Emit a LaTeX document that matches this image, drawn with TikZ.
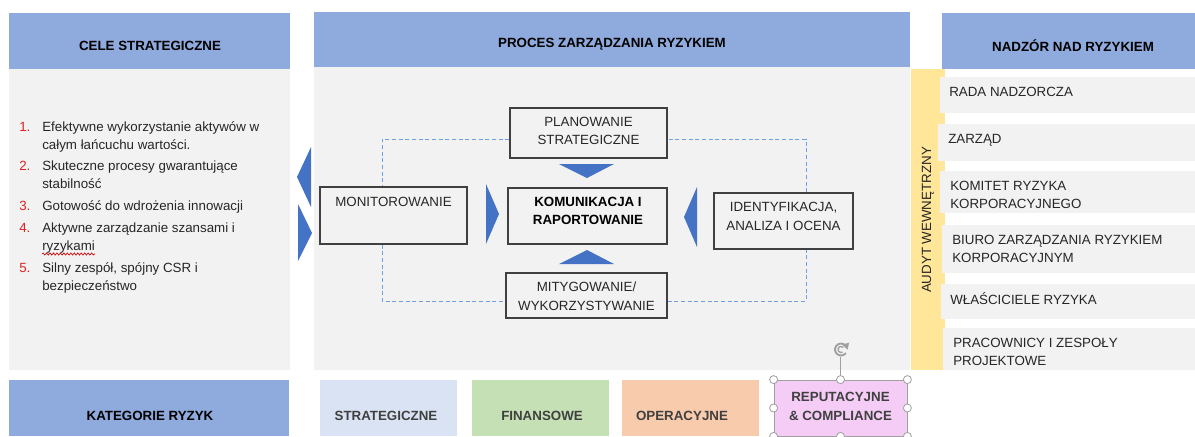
\documentclass[tikz,border=0pt]{standalone}
\usepackage{fontspec}
\setmainfont{Liberation Sans}
\usetikzlibrary{decorations.pathmorphing,arrows.meta,calc}
\definecolor{hdr}{HTML}{8FAADC}
\definecolor{panel}{HTML}{F2F2F2}
\definecolor{audyt}{HTML}{FFE699}
\definecolor{tri}{HTML}{4472C4}
\definecolor{dash}{HTML}{6E9FE3}
\definecolor{txt}{HTML}{262626}
\definecolor{lab}{HTML}{404040}
\definecolor{catS}{HTML}{DAE3F3}
\definecolor{catF}{HTML}{C5E0B4}
\definecolor{catO}{HTML}{F8CBAD}
\definecolor{catR}{HTML}{F4CCF6}
\definecolor{numred}{HTML}{E02020}
\definecolor{handle}{HTML}{A0A0A0}
\tikzset{
  hdrtext/.style={font=\fontsize{10}{12}\selectfont\bfseries, text=black, inner sep=0pt},
  bodytext/.style={font=\fontsize{10}{12}\selectfont, text=txt, inner sep=0pt},
  numtext/.style={font=\fontsize{10}{12}\selectfont, text=numred, inner sep=0pt, anchor=base west},
  linetext/.style={bodytext, anchor=base west},
  procbox/.style={draw=lab, line width=0.8pt, fill=panel, inner sep=0pt},
  proctext/.style={font=\fontsize{10}{13.9}\selectfont, text=txt, align=center, inner sep=0pt},
  dashline/.style={draw=dash, dashed, line width=0.7pt, dash pattern=on 3pt off 2pt},
  trifill/.style={fill=tri},
  catbox/.style={inner sep=0pt, minimum width=137*0.75pt, minimum height=56*0.75pt,
     font=\fontsize{10}{13.9}\selectfont\bfseries, text=lab, align=center},
  rightbox/.style={fill=panel},
  handlecirc/.style={draw=handle, fill=white, line width=0.6pt},
}
\begin{document}
\begin{tikzpicture}[x=0.75pt,y=-0.75pt]
\useasboundingbox (0,0) rectangle (1195,436);
\fill[white] (0,0) rectangle (1195,436);

% ---------- left panel ----------
\fill[hdr] (9,13) rectangle (290,69);
\node[hdrtext] (celeT) at (150,46) {CELE STRATEGICZNE};
\fill[panel] (9,69) rectangle (290,370);

\node[numtext] (n1) at (19,131) {1.};
\node[linetext] (l1a) at (42,131) {Efektywne wykorzystanie aktywów w};
\node[linetext] (l1b) at (42,149.5) {całym łańcuchu wartości.};
\node[numtext] (n2) at (19,170) {2.};
\node[linetext] (l2a) at (42,170) {Skuteczne procesy gwarantujące};
\node[linetext] (l2b) at (42,188.5) {stabilność};
\node[numtext] (n3) at (19,210) {3.};
\node[linetext] (l3a) at (42,210) {Gotowość do wdrożenia innowacji};
\node[numtext] (n4) at (19,232) {4.};
\node[linetext] (l4a) at (42,232) {Aktywne zarządzanie szansami i};
\node[linetext] (l4b) at (42,250.5) {ryzykami};
\draw[red!85!black, line width=0.5pt, decorate, decoration={snake, amplitude=0.8pt, segment length=2.6pt}] ($(l4b.base west)+(0,3.5)$) -- ($(l4b.base east)+(0,3.5)$);
\node[numtext] (n5) at (19,272) {5.};
\node[linetext] (l5a) at (42,272) {Silny zespół, spójny CSR i};
\node[linetext] (l5b) at (42,290.5) {bezpieczeństwo};

% left chevrons between panels
\fill[tri] (297,177) -- (311,147) -- (311,207) -- cycle;
\fill[tri] (312,233) -- (298,204) -- (298,261) -- cycle;

% ---------- middle panel ----------
\fill[hdr] (314,12) rectangle (910,67);
\node[hdrtext] (procT) at (612,44) {PROCES ZARZĄDZANIA RYZYKIEM};
\fill[panel] (314,67) rectangle (910,370);

\coordinate (cTL) at (382,139);
\coordinate (cBL) at (382,301);
\coordinate (cBR) at (806,301);
\coordinate (cTR) at (806,139);

\node[procbox, minimum width=157*0.75pt, minimum height=50*0.75pt] (plan) at (588.5,133) {};
\node[procbox, minimum width=159*0.75pt, minimum height=56*0.75pt] (komu) at (587.5,216) {};
\node[procbox, minimum width=161*0.75pt, minimum height=45*0.75pt] (mity) at (586.5,295.5) {};
\node[procbox, minimum width=147*0.75pt, minimum height=57*0.75pt] (monit) at (393.5,215.5) {};
\node[procbox, minimum width=139*0.75pt, minimum height=56*0.75pt] (ident) at (783.5,221) {};

\draw[dashline] (plan.west |- cTL) -- (cTL) -- (cTL |- monit.north);
\draw[dashline] (cBL |- monit.south) -- (cBL) -- (mity.west |- cBL);
\draw[dashline] (mity.east |- cBR) -- (cBR) -- (cBR |- ident.south);
\draw[dashline] (cTR |- ident.north) -- (cTR) -- (plan.east |- cTR);

\node[proctext] (planT) at (588.5,131) {PLANOWANIE\\STRATEGICZNE};
\node[proctext, font=\fontsize{10}{13.9}\selectfont\bfseries, text=black] (komuT) at (588,211) {KOMUNIKACJA I\\RAPORTOWANIE};
\node[proctext] (mityT) at (586.5,296) {MITYGOWANIE/\\WYKORZYSTYWANIE};
\node[proctext] (monitT) at (393.5,201.5) {MONITOROWANIE};
\node[proctext] (identT) at (783.5,216.5) {IDENTYFIKACJA,\\ANALIZA I OCENA};

% triangles
\fill[tri] (559,164) -- (614,164) -- (587,178) -- cycle;
\fill[tri] (559,264) -- (614,264) -- (587,250) -- cycle;
\fill[tri] (486,184) -- (499,214) -- (486,244) -- cycle;
\fill[tri] (697,187) -- (684,217) -- (697,247) -- cycle;

% ---------- right panel ----------
\fill[hdr] (942,13) rectangle (1195,69);
\node[hdrtext] (nadT) at (1073,46) {NADZÓR NAD RYZYKIEM};
\fill[audyt] (911,69) rectangle (945,370);
\node[bodytext, rotate=90] (audT) at (928,220) {AUDYT WEWNĘTRZNY};

\fill[rightbox] (940,77) rectangle (1195,113);
\fill[rightbox] (938,124) rectangle (1195,161);
\fill[rightbox] (940,171) rectangle (1195,213);
\fill[rightbox] (942,225) rectangle (1195,273);
\fill[rightbox] (941,284) rectangle (1195,319);
\fill[rightbox] (943,328) rectangle (1195,370);

\node[linetext] (r1) at (949,96) {RADA NADZORCZA};
\node[linetext] (r2) at (948,143.5) {ZARZĄD};
\node[linetext] (r3a) at (950,190.5) {KOMITET RYZYKA};
\node[linetext] (r3b) at (950,208.5) {KORPORACYJNEGO};
\node[linetext] (r4a) at (952,244.5) {BIURO ZARZĄDZANIA RYZYKIEM};
\node[linetext] (r4b) at (952,262.5) {KORPORACYJNYM};
\node[linetext] (r5) at (950,304) {WŁAŚCICIELE RYZYKA};
\node[linetext] (r6a) at (953,347) {PRACOWNICY I ZESPOŁY};
\node[linetext] (r6b) at (953,365) {PROJEKTOWE};

% ---------- bottom row ----------
\fill[hdr] (9,380) rectangle (289,436);
\node[hdrtext] (katT) at (150,416) {KATEGORIE RYZYK};

\node[catbox, fill=catS] (cs) at (388.5,408) {};
\node[catbox, fill=catF] (cf) at (540.5,408) {};
\node[catbox, fill=catO] (co) at (690.5,408) {};
\node[catbox, fill=catR, draw=handle, line width=0.6pt, minimum width=133*0.75pt] (cr) at (840.5,408) {};
\node[catbox] (csT) at (386,416) {STRATEGICZNE};
\node[catbox] (cfT) at (542,416) {FINANSOWE};
\node[catbox] (coT) at (682,416) {OPERACYJNE};
\node[catbox] (crT) at (840.5,406.5) {REPUTACYJNE\\\& COMPLIANCE};

% selection handles
\coordinate (rot) at (841,349.5);
\draw[handle, line width=0.6pt] (cr.north) -- (840.5,357);
\draw[handle, line width=1.4pt] ($(rot)+(35:6)$) arc[start angle=35, end angle=320, radius=6];
\draw[handle, line width=1pt] ($(rot)+(60:3)$) arc[start angle=60, end angle=320, radius=3];
\fill[handle] ($(rot)+(320:6)+(3.5,-3)$) -- ($(rot)+(320:6)+(-3.5,-1)$) -- ($(rot)+(320:6)+(2,4)$) -- cycle;
\foreach \p in {north west,north,north east,west,east,south west,south,south east}
  \draw[handlecirc] (cr.\p) circle[radius=4];
\end{tikzpicture}
\end{document}
